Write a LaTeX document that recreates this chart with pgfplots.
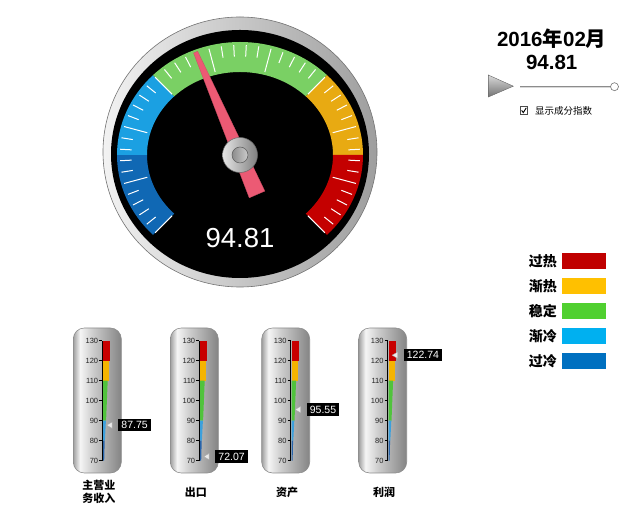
\documentclass[border=0pt]{standalone}
\usepackage{pgfplots}
\pgfplotsset{compat=1.18}
\usepackage{fontspec}
\setmainfont{Liberation Sans}
\newfontfamily\cjk{Noto Sans CJK SC}

% gauge colours
\definecolor{gdblue}{RGB}{16,104,180}
\definecolor{glblue}{RGB}{27,160,226}
\definecolor{ggreen}{RGB}{122,208,100}
\definecolor{gyellow}{RGB}{232,170,18}
\definecolor{gred}{RGB}{196,0,0}
\definecolor{needle}{RGB}{236,90,116}
% thermometer colours
\definecolor{tred}{RGB}{200,0,0}
\definecolor{tyellow}{RGB}{245,180,0}
\definecolor{tgreen}{RGB}{80,195,60}
\definecolor{tlblue}{RGB}{60,160,220}
\definecolor{tdblue}{RGB}{40,100,170}
% legend colours
\definecolor{lred}{RGB}{192,0,0}
\definecolor{lyellow}{RGB}{255,192,0}
\definecolor{lgreen}{RGB}{80,208,48}
\definecolor{llblue}{RGB}{0,176,240}
\definecolor{ldblue}{RGB}{0,112,192}
% capsule
\definecolor{capA}{RGB}{160,160,160}
\definecolor{capB}{RGB}{245,245,245}
\definecolor{capC}{RGB}{205,205,205}
\definecolor{capD}{RGB}{132,132,132}
\pgfdeclarehorizontalshading{capsule}{100bp}{color(0bp)=(capA); color(25bp)=(capA); color(32bp)=(capB); color(45bp)=(capC); color(75bp)=(capD); color(100bp)=(capD)}

\newcommand{\gval}{94.81}
\pgfmathsetmacro{\ang}{225-(\gval-70)*4.5}
\pgfmathsetmacro{\cc}{cos(\ang)}
\pgfmathsetmacro{\ss}{sin(\ang)}
\pgfmathsetmacro{\xa}{112*\cc-2.2*\ss}\pgfmathsetmacro{\ya}{112*\ss+2.2*\cc}
\pgfmathsetmacro{\xb}{112*\cc+2.2*\ss}\pgfmathsetmacro{\yb}{112*\ss-2.2*\cc}
\pgfmathsetmacro{\xc}{-43*\cc+8.5*\ss}\pgfmathsetmacro{\yc}{-43*\ss-8.5*\cc}
\pgfmathsetmacro{\xd}{-43*\cc-8.5*\ss}\pgfmathsetmacro{\yd}{-43*\ss+8.5*\cc}

\pgfplotsset{
  thermo/.style={
    anchor=south west, scale only axis, width=10pt, height=120pt,
    xmin=0, xmax=10, ymin=70, ymax=130, clip=false,
    axis x line=none, axis y line*=left,
    ytick={70,80,...,130},
    tick align=outside, major tick length=3pt,
    every tick/.style={black, line width=0.5pt},
    y axis line style={black, line width=0.7pt, -},
    yticklabel style={font=\fontsize{7.5}{8}\selectfont, text=black!85, inner sep=1pt},
    /pgf/number format/assume math mode=true,
  }
}

\newcommand{\thermo}[4]{%
  \shade[shading=capsule, rounded corners=11pt] (#1-29,40) rectangle (#1+19,185);
  \draw[black!45, rounded corners=11pt, line width=0.6pt] (#1-29,40) rectangle (#1+19,185);
  \coordinate (#4) at (#1,52.3);
  \begin{axis}[thermo, at={(#4)}]
    \addplot[fill=tred, draw=none] coordinates {(0.8,120) (7.8,120) (7.8,130) (0.8,130)} -- cycle;
    \addplot[fill=tyellow, draw=none] coordinates {(0.8,110) (7.0,110) (7.0,120) (0.8,120)} -- cycle;
    \addplot[fill=tgreen, draw=none] coordinates {(0.8,90) (3.8,90) (5.4,110) (0.8,110)} -- cycle;
    \addplot[fill=tlblue, draw=none] coordinates {(0.8,80) (2.6,80) (3.6,90) (0.8,90)} -- cycle;
    \addplot[fill=tdblue, draw=none] coordinates {(0.8,70) (1.9,70) (2.4,80) (0.8,80)} -- cycle;
    \addplot[only marks, mark=triangle*, mark size=3.6pt,
      mark options={rotate=90, fill=white!92!black, draw=black!35, line width=0.3pt},
      nodes near coords, point meta=explicit symbolic,
      every node near coord/.append style={anchor=west, xshift=8pt, fill=black, text=white,
        font=\fontsize{10.5}{11}\selectfont, inner xsep=3pt, inner ysep=2.5pt}]
      coordinates {(8,#2) [#2]};
  \end{axis}
  \node[font=\cjk\bfseries\fontsize{11}{12.5}\selectfont, align=center] at (#1-3.5,21) {#3};
}

\begin{document}
\begin{tikzpicture}[x=1pt,y=1pt]
\useasboundingbox (0,0) rectangle (639,513);

% ---------------- gauge ----------------
\begin{scope}[shift={(240,358)}]
  \shade[left color=white!95!black, right color=black!38, middle color=black!22]
     (0,3) ellipse [x radius=137pt, y radius=135pt];
  \draw[black!55, line width=0.6pt] (0,3) ellipse [x radius=137pt, y radius=135pt];
  \fill[black] (0,1) ellipse [x radius=129pt, y radius=124pt];
  \foreach \a/\b/\c in {225/180/gdblue, 180/135/glblue, 135/45/ggreen, 45/0/gyellow, 0/-45/gred}{
    \fill[\c] ({123*cos(\a)},{113*sin(\a)})
      arc[start angle=\a, end angle=\b, x radius=123pt, y radius=113pt]
      -- ({93*cos(\b)},{83*sin(\b)})
      arc[start angle=\b, end angle=\a, x radius=93pt, y radius=83pt] -- cycle;
  }
  \foreach \k in {0,...,45}{
    \pgfmathsetmacro\t{225-6*\k}
    \pgfmathtruncatemacro\m{mod(\k,5)}
    \ifnum\m=0 \def\ri{0.1}\else\def\ri{0.52}\fi
    \draw[white, line width=1pt]
      ({(93+30*\ri)*cos(\t)},{(83+30*\ri)*sin(\t)}) --
      ({(93+30*0.9)*cos(\t)},{(83+30*0.9)*sin(\t)});
  }
  \node[white, font=\fontsize{27.5}{30}\selectfont] at (0,-83) {\gval};
\end{scope}

\coordinate (G) at (240,358);
\begin{axis}[at={(G)}, anchor=center, scale only axis, width=280pt, height=280pt,
  xmin=-140, xmax=140, ymin=-140, ymax=140, hide axis, clip=false]
  \addplot[fill=needle, draw=needle!85!black, line width=0.3pt]
    coordinates {(\xa,\ya) (\xb,\yb) (\xc,\yc) (\xd,\yd)} -- cycle;
\end{axis}

\begin{scope}[shift={(240,358)}]
  \shade[left color=white!90!black, right color=black!50] (0,0) circle[radius=17.5pt];
  \draw[black!60, line width=0.5pt] (0,0) circle[radius=17.5pt];
  \shade[left color=black!45, right color=black!20] (0,0) circle[radius=8pt];
  \draw[black!65, line width=0.5pt] (0,0) circle[radius=8pt];
\end{scope}

% ---------------- title & slider ----------------
\node[anchor=base, font=\bfseries\fontsize{20.5}{22}\selectfont] at (551.7,466.3)
  {2016{\cjk\bfseries 年}02{\cjk\bfseries 月}};
\node[anchor=base, font=\bfseries\fontsize{20.5}{22}\selectfont] at (551.7,443) {\gval};
\shade[top color=white!85!black, bottom color=black!55, draw=black!60, line width=0.4pt]
  (488.3,438) -- (513.3,426.8) -- (488.3,416) -- cycle;
\draw[black!45, line width=1.4pt] (520,426.3) -- (611,426.3);
\draw[white!85!black, line width=0.5pt] (520,425.6) -- (611,425.6);
\filldraw[fill=white, draw=black!55, line width=0.6pt] (614.5,426.3) circle[radius=4pt];
\filldraw[fill=white, draw=black!70, line width=0.5pt] (520,398.7) rectangle (527.7,406.3);
\draw[black, line width=0.9pt] (521.6,402.6) -- (523.3,400.4) -- (526.3,405.2);
\node[anchor=west, font=\cjk\fontsize{9.5}{10}\selectfont, inner sep=0pt] at (535,402.5) {显示成分指数};

% ---------------- legend ----------------
\foreach \lab/\col/\yy in {过热/lred/252, 渐热/lyellow/227, 稳定/lgreen/202, 渐冷/llblue/177, 过冷/ldblue/152}{
  \fill[\col] (561.7,\yy-8.3) rectangle (606,\yy+8.3);
  \node[anchor=east, font=\cjk\bfseries\fontsize{14}{15}\selectfont, inner sep=0pt] at (557,\yy) {\lab};
}

% ---------------- thermometers ----------------
\thermo{102.3}{87.75}{主营业\\务收入}{T1}
\thermo{199.3}{72.07}{出口}{T2}
\thermo{290.7}{95.55}{资产}{T3}
\thermo{387.7}{122.74}{利润}{T4}

\end{tikzpicture}
\end{document}
